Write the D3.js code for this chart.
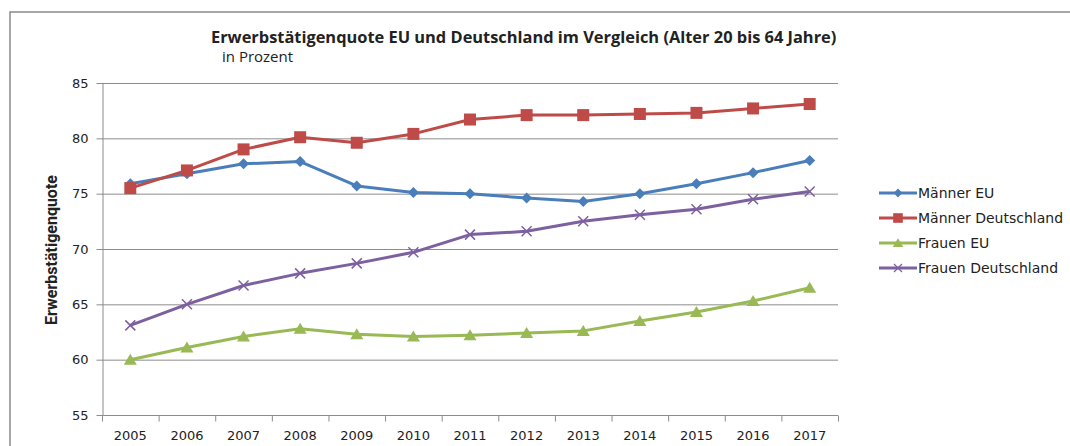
<!DOCTYPE html>
<html lang="de">
<head>
  <meta charset="UTF-8">
  <title>Erwerbstätigenquote</title>
  <script src="https://d3js.org/d3.v7.min.js"></script>
  <style>
    body { margin: 0; background: #fff; }
    text { fill: #222; }
    .grid line { stroke: #8c8c8c; stroke-width: 1; }
    .axis path, .axis line { stroke: #8c8c8c; }
  </style>
</head>
<body>
<svg width="1070" height="446"></svg>
<script>
  const svg = d3.select("svg");

  const years = ["2005","2006","2007","2008","2009","2010","2011","2012","2013","2014","2015","2016","2017"];
  const maennerEU = [75.9, 76.8, 77.7, 77.9, 75.7, 75.1, 75.0, 74.6, 74.3, 75.0, 75.9, 76.9, 78.0];
  const maennerDE = [75.5, 77.1, 79.0, 80.1, 79.6, 80.4, 81.7, 82.1, 82.1, 82.2, 82.3, 82.7, 83.1];
  const frauenEU = [60.0, 61.1, 62.1, 62.8, 62.3, 62.1, 62.2, 62.4, 62.6, 63.5, 64.3, 65.3, 66.5];
  const frauenDE = [63.1, 65.0, 66.7, 67.8, 68.7, 69.7, 71.3, 71.6, 72.5, 73.1, 73.6, 74.5, 75.2];
  const yTicks = [55, 60, 65, 70, 75, 80, 85];

  const series = [
    { name: "Männer EU", values: maennerEU, color: "#4a7ebb", marker: "diamond" },
    { name: "Männer Deutschland", values: maennerDE, color: "#be4b48", marker: "square" },
    { name: "Frauen EU", values: frauenEU, color: "#98b954", marker: "triangle" },
    { name: "Frauen Deutschland", values: frauenDE, color: "#7d60a0", marker: "cross" }
  ];

  const plotLeft = 102, plotRight = 838, plotTop = 83, plotBottom = 415;
  const tickFont = "'DejaVu Sans', sans-serif";

  const x = d3.scaleBand().domain(years).range([plotLeft, plotRight]);
  const y = d3.scaleLinear().domain([55, 85]).range([plotBottom, plotTop]);

  // outer frame (partly visible)
  svg.append("path")
    .attr("d", "M10,446 V12 H1070")
    .attr("fill", "none")
    .attr("stroke", "#8a8a8a")
    .attr("stroke-width", 1.5);

  // title
  svg.append("text")
    .attr("x", 211).attr("y", 43)
    .style("font-family", "'Open Sans', sans-serif")
    .style("font-size", "16.4px").style("font-weight", "bold")
    .text("Erwerbstätigenquote EU und Deutschland im Vergleich (Alter 20 bis 64 Jahre)");
  svg.append("text")
    .attr("x", 222).attr("y", 62)
    .style("font-family", "'Open Sans', sans-serif")
    .style("font-size", "15px")
    .text("in Prozent");

  // gridlines
  svg.append("g").attr("class", "grid")
    .selectAll("line")
    .data(yTicks.filter(d => d > 55))
    .join("line")
      .attr("x1", plotLeft).attr("x2", plotRight)
      .attr("y1", d => y(d) + 0.5).attr("y2", d => y(d) + 0.5);

  // y axis
  const yAxis = svg.append("g").attr("class", "axis")
    .attr("transform", `translate(${plotLeft + 0.5},0)`)
    .call(d3.axisLeft(y).tickValues(yTicks).tickSize(6).tickSizeOuter(0).tickPadding(8));
  yAxis.selectAll("text")
    .style("font-family", tickFont).style("font-size", "13px").style("fill", "#222");

  // x axis with ticks between categories
  const xg = svg.append("g").attr("class", "axis")
    .attr("transform", `translate(0,${plotBottom + 0.5})`);
  xg.append("line").attr("x1", plotLeft).attr("x2", plotRight);
  xg.selectAll(".tk")
    .data(years.concat(["end"]))
    .join("line").attr("class", "tk")
      .attr("x1", (d, i) => plotLeft + i * x.step() + 0.5)
      .attr("x2", (d, i) => plotLeft + i * x.step() + 0.5)
      .attr("y1", 0).attr("y2", 6);
  xg.selectAll("text")
    .data(years)
    .join("text")
      .attr("x", d => x(d) + x.bandwidth() / 2)
      .attr("y", 24)
      .attr("text-anchor", "middle")
      .style("font-family", tickFont).style("font-size", "13px")
      .text(d => d);

  // y axis title
  svg.append("text")
    .attr("transform", `translate(57,250) rotate(-90)`)
    .attr("text-anchor", "middle")
    .style("font-family", "'Liberation Sans Narrow', 'Roboto', sans-serif")
    .style("font-size", "16px").style("font-weight", "bold")
    .text("Erwerbstätigenquote");

  function drawMarker(g, type, color) {
    if (type === "diamond") {
      g.append("path").attr("d", "M0,-5.5 L5.5,0 L0,5.5 L-5.5,0Z").attr("fill", color);
    } else if (type === "square") {
      g.append("rect").attr("x", -6).attr("y", -6).attr("width", 12).attr("height", 12).attr("fill", color);
    } else if (type === "triangle") {
      g.append("path").attr("d", "M0,-6 L6.5,5 L-6.5,5Z").attr("fill", color);
    } else {
      g.append("path").attr("d", "M-5,-5 L5,5 M-5,5 L5,-5")
        .attr("stroke", color).attr("stroke-width", 1.5).attr("fill", "none");
    }
  }

  const line = d3.line()
    .x((d, i) => x(years[i]) + x.bandwidth() / 2)
    .y(d => y(d));

  series.forEach(s => {
    svg.append("path")
      .datum(s.values)
      .attr("fill", "none")
      .attr("stroke", s.color)
      .attr("stroke-width", 3)
      .attr("stroke-linejoin", "round")
      .attr("d", line);
    s.values.forEach((v, i) => {
      const g = svg.append("g")
        .attr("transform", `translate(${x(years[i]) + x.bandwidth() / 2},${y(v)})`);
      drawMarker(g, s.marker, s.color);
    });
  });

  // legend
  const legend = svg.append("g");
  series.forEach((s, i) => {
    const ly = 193 + i * 25;
    const g = legend.append("g").attr("transform", `translate(0,${ly})`);
    g.append("line").attr("x1", 879).attr("x2", 917).attr("y1", 0).attr("y2", 0)
      .attr("stroke", s.color).attr("stroke-width", 3);
    const m = g.append("g").attr("transform", "translate(898,0) scale(0.8)");
    drawMarker(m, s.marker, s.color);
    g.append("text").attr("x", 918).attr("y", 5)
      .style("font-family", tickFont).style("font-size", "14px")
      .text(s.name);
  });
</script>
</body>
</html>
